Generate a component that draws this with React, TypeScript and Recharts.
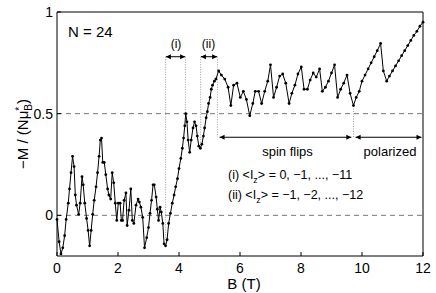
import React from 'react'
import { ComposedChart, Line, XAxis, YAxis, ReferenceLine } from 'recharts'

// magnetic field B (T)
const fieldT = [
  0.0, 0.07, 0.13, 0.19, 0.25, 0.3, 0.37, 0.41, 0.46, 0.51, 0.56, 0.6, 0.64, 0.71, 0.76, 0.82, 0.86, 0.91, 0.97,
  1.02, 1.07, 1.12, 1.17, 1.22, 1.28, 1.33, 1.38, 1.42, 1.46, 1.5, 1.55, 1.6, 1.66, 1.7, 1.76, 1.81, 1.86, 1.91, 1.96,
  2.01, 2.07, 2.11, 2.15, 2.2, 2.26, 2.3, 2.36, 2.42, 2.47, 2.52, 2.59, 2.66, 2.7, 2.75, 2.81, 2.87, 2.94,
  3.0, 3.05, 3.1, 3.15, 3.19, 3.25, 3.29, 3.33, 3.38, 3.42, 3.47, 3.51, 3.56, 3.61, 3.66, 3.72, 3.78, 3.84, 3.89, 3.95,
  4.0, 4.06, 4.11, 4.15, 4.19, 4.22, 4.26, 4.3, 4.35, 4.4, 4.46, 4.51, 4.56, 4.6, 4.65, 4.7, 4.75, 4.8, 4.84, 4.89, 4.93, 4.97,
  5.02, 5.06, 5.1, 5.16, 5.21, 5.3, 5.39, 5.5, 5.61, 5.7, 5.79, 5.9,
  6.01, 6.11, 6.21, 6.32, 6.42, 6.5, 6.61, 6.71, 6.81, 6.91,
  7.0, 7.1, 7.2, 7.3, 7.4, 7.5, 7.61, 7.7, 7.8, 7.9,
  8.01, 8.1, 8.21, 8.3, 8.4, 8.5, 8.61, 8.7, 8.8, 8.9,
  9.0, 9.1, 9.2, 9.3, 9.4, 9.51, 9.61, 9.72, 9.81, 9.91,
  10.0, 10.1, 10.2, 10.3, 10.4, 10.5, 10.61, 10.7, 10.81, 10.9,
  11.0, 11.1, 11.2, 11.3, 11.4, 11.5, 11.6, 11.7, 11.8, 11.9, 12.0,
]

// -M / (N muB*)
const magnetization = [
  -0.02, -0.13, -0.19, -0.16, -0.1, -0.02, 0.06, 0.13, 0.21, 0.29, 0.24, 0.1, 0.05, 0.005, 0.06, 0.19, 0.15, 0.06, -0.015,
  -0.074, -0.15, -0.074, 0.005, 0.074, 0.14, 0.21, 0.29, 0.37, 0.38, 0.26, 0.26, 0.2, 0.13, 0.1, 0.08, 0.21, 0.16, 0.06, -0.025,
  0.06, 0.06, -0.025, -0.025, 0.074, 0.11, -0.05, 0.025, 0.13, -0.025, -0.04, 0.05, 0.08, 0.065, 0.04, -0.01, -0.16, -0.11,
  -0.06, 0.01, 0.074, 0.15, 0.15, 0.09, 0.03, -0.025, 0.04, 0.016, -0.04, -0.14, -0.15, -0.12, -0.04, 0.01, 0.06, 0.1, 0.14, 0.18,
  0.23, 0.28, 0.33, 0.38, 0.44, 0.5, 0.46, 0.37, 0.31, 0.37, 0.43, 0.46, 0.44, 0.39, 0.34, 0.33, 0.35, 0.39, 0.43, 0.48, 0.51, 0.55,
  0.58, 0.62, 0.64, 0.66, 0.67, 0.71, 0.69, 0.67, 0.63, 0.54, 0.64, 0.65,
  0.58, 0.61, 0.57, 0.49, 0.55, 0.61, 0.61, 0.55, 0.61, 0.66,
  0.74, 0.58, 0.63, 0.685, 0.695, 0.65, 0.55, 0.6, 0.64, 0.695,
  0.73, 0.62, 0.62, 0.665, 0.7, 0.68, 0.72, 0.61, 0.63, 0.66,
  0.7, 0.74, 0.58, 0.62, 0.65, 0.69, 0.6, 0.54, 0.58, 0.61,
  0.66, 0.69, 0.72, 0.75, 0.78, 0.81, 0.845, 0.71, 0.66, 0.685,
  0.71, 0.735, 0.76, 0.785, 0.81, 0.835, 0.86, 0.885, 0.905, 0.93, 0.95,
]

const xTicks = [0, 2, 4, 6, 8, 10, 12]
const yTicks = [0, 0.5, 1]
const dashedLevels = [0, 0.5]

// dotted guide lines: field position and vertical extent
const guideB = [3.56, 4.21, 4.71, 5.26, 9.72]
const guideTop = [0.78, 0.78, 0.78, 0.78, 0.55]
const guideBottom = [-0.13, 0.5, 0.34, 0.384, 0.384]

// double-headed arrows
const arrowFrom = [3.57, 4.72, 5.33, 9.79]
const arrowTo = [4.2, 5.25, 9.65, 11.95]
const arrowLevel = [0.78, 0.78, 0.384, 0.384]

const data = fieldT.map((b, i) => ({ b, m: magnetization[i] }))

const font = '"Liberation Sans", Arial, sans-serif'

function ArrowShape(props: any) {
  const { x1, y1, x2, y2 } = props
  const len = 5
  const hw = 2.5
  return (
    <g>
      <line x1={x1} y1={y1} x2={x2} y2={y2} stroke="#000" strokeWidth={1} />
      <polygon points={`${x1},${y1} ${x1 + len},${y1 - hw} ${x1 + len},${y1 + hw}`} fill="#000" />
      <polygon points={`${x2},${y2} ${x2 - len},${y2 - hw} ${x2 - len},${y2 + hw}`} fill="#000" />
    </g>
  )
}

const txt = (left: number, top: number, size: number, extra: React.CSSProperties = {}): React.CSSProperties => ({
  position: 'absolute',
  left,
  top,
  fontSize: size,
  lineHeight: 1,
  fontFamily: font,
  color: '#000',
  whiteSpace: 'nowrap',
  ...extra,
})

export default function App() {
  return (
    <div style={{ position: 'absolute', left: 0, top: 0, width: 436, height: 293, background: '#fff' }}>
      <ComposedChart width={436} height={293} data={data} margin={{ top: 0, right: 0, bottom: 0, left: 0 }}>
        <XAxis
          dataKey="b"
          type="number"
          domain={[0, 12]}
          ticks={xTicks}
          height={37}
          stroke="#000"
          tickSize={-4}
          tickMargin={11}
          tick={{ fontSize: 14, fill: '#000', fontFamily: font }}
        />
        <XAxis
          xAxisId="top"
          orientation="top"
          type="number"
          domain={[0, 12]}
          ticks={xTicks}
          height={12}
          stroke="#000"
          tickSize={-4}
          tick={false}
        />
        <YAxis
          type="number"
          domain={[-0.2, 1]}
          ticks={yTicks}
          width={57}
          stroke="#000"
          tickSize={-4}
          tickMargin={8}
          tick={{ fontSize: 14, fill: '#000', fontFamily: font }}
        />
        <YAxis
          yAxisId="right"
          orientation="right"
          type="number"
          domain={[-0.2, 1]}
          ticks={yTicks}
          width={13}
          stroke="#000"
          tickSize={-4}
          tick={false}
        />
        {dashedLevels.map((y) => (
          <ReferenceLine key={`lvl-${y}`} y={y} stroke="#777" strokeDasharray="5 4" strokeWidth={1} />
        ))}
        {guideB.map((b, i) => (
          <ReferenceLine
            key={`guide-${i}`}
            segment={[{ x: b, y: guideTop[i] }, { x: b, y: guideBottom[i] }]}
            stroke="#999"
            strokeDasharray="1 1.5"
            strokeWidth={1}
          />
        ))}
        {arrowFrom.map((b, i) => (
          <ReferenceLine
            key={`arrow-${i}`}
            segment={[{ x: b, y: arrowLevel[i] }, { x: arrowTo[i], y: arrowLevel[i] }]}
            shape={(p: any) => <ArrowShape {...p} />}
          />
        ))}
        <Line
          type="linear"
          dataKey="m"
          stroke="#000"
          strokeWidth={1}
          dot={{ r: 1.4, fill: '#000', stroke: '#000', strokeWidth: 0 }}
          isAnimationActive={false}
        />
      </ComposedChart>

      <div style={txt(68, 24, 15)}>N = 24</div>
      <div style={txt(176, 38, 12, { transform: 'translateX(-50%)' })}>(i)</div>
      <div style={txt(208.5, 38, 12, { transform: 'translateX(-50%)' })}>(ii)</div>
      <div style={txt(287.5, 145, 13, { transform: 'translateX(-50%)' })}>spin flips</div>
      <div style={txt(390, 145, 13, { transform: 'translateX(-50%)' })}>polarized</div>
      <div style={txt(228, 169, 12.5)}>
        (i) &lt;I<sub style={{ fontSize: 9 }}>z</sub>&gt; = 0, −1, ..., −11
      </div>
      <div style={txt(228, 189, 12.5)}>
        (ii) &lt;I<sub style={{ fontSize: 9 }}>z</sub>&gt; = −1, −2, ..., −12
      </div>
      <div style={txt(244, 276, 15, { transform: 'translateX(-50%)' })}>B (T)</div>
      <div
        style={txt(22, 134, 15, {
          transform: 'translate(-50%, -50%) rotate(-90deg)',
          display: 'flex',
          alignItems: 'center',
        })}
      >
        <span>−M / (Nμ</span>
        <span
          style={{
            display: 'inline-flex',
            flexDirection: 'column',
            fontSize: 10,
            lineHeight: '9px',
            marginTop: 4,
          }}
        >
          <span>*</span>
          <span>B</span>
        </span>
        <span>)</span>
      </div>
    </div>
  )
}
